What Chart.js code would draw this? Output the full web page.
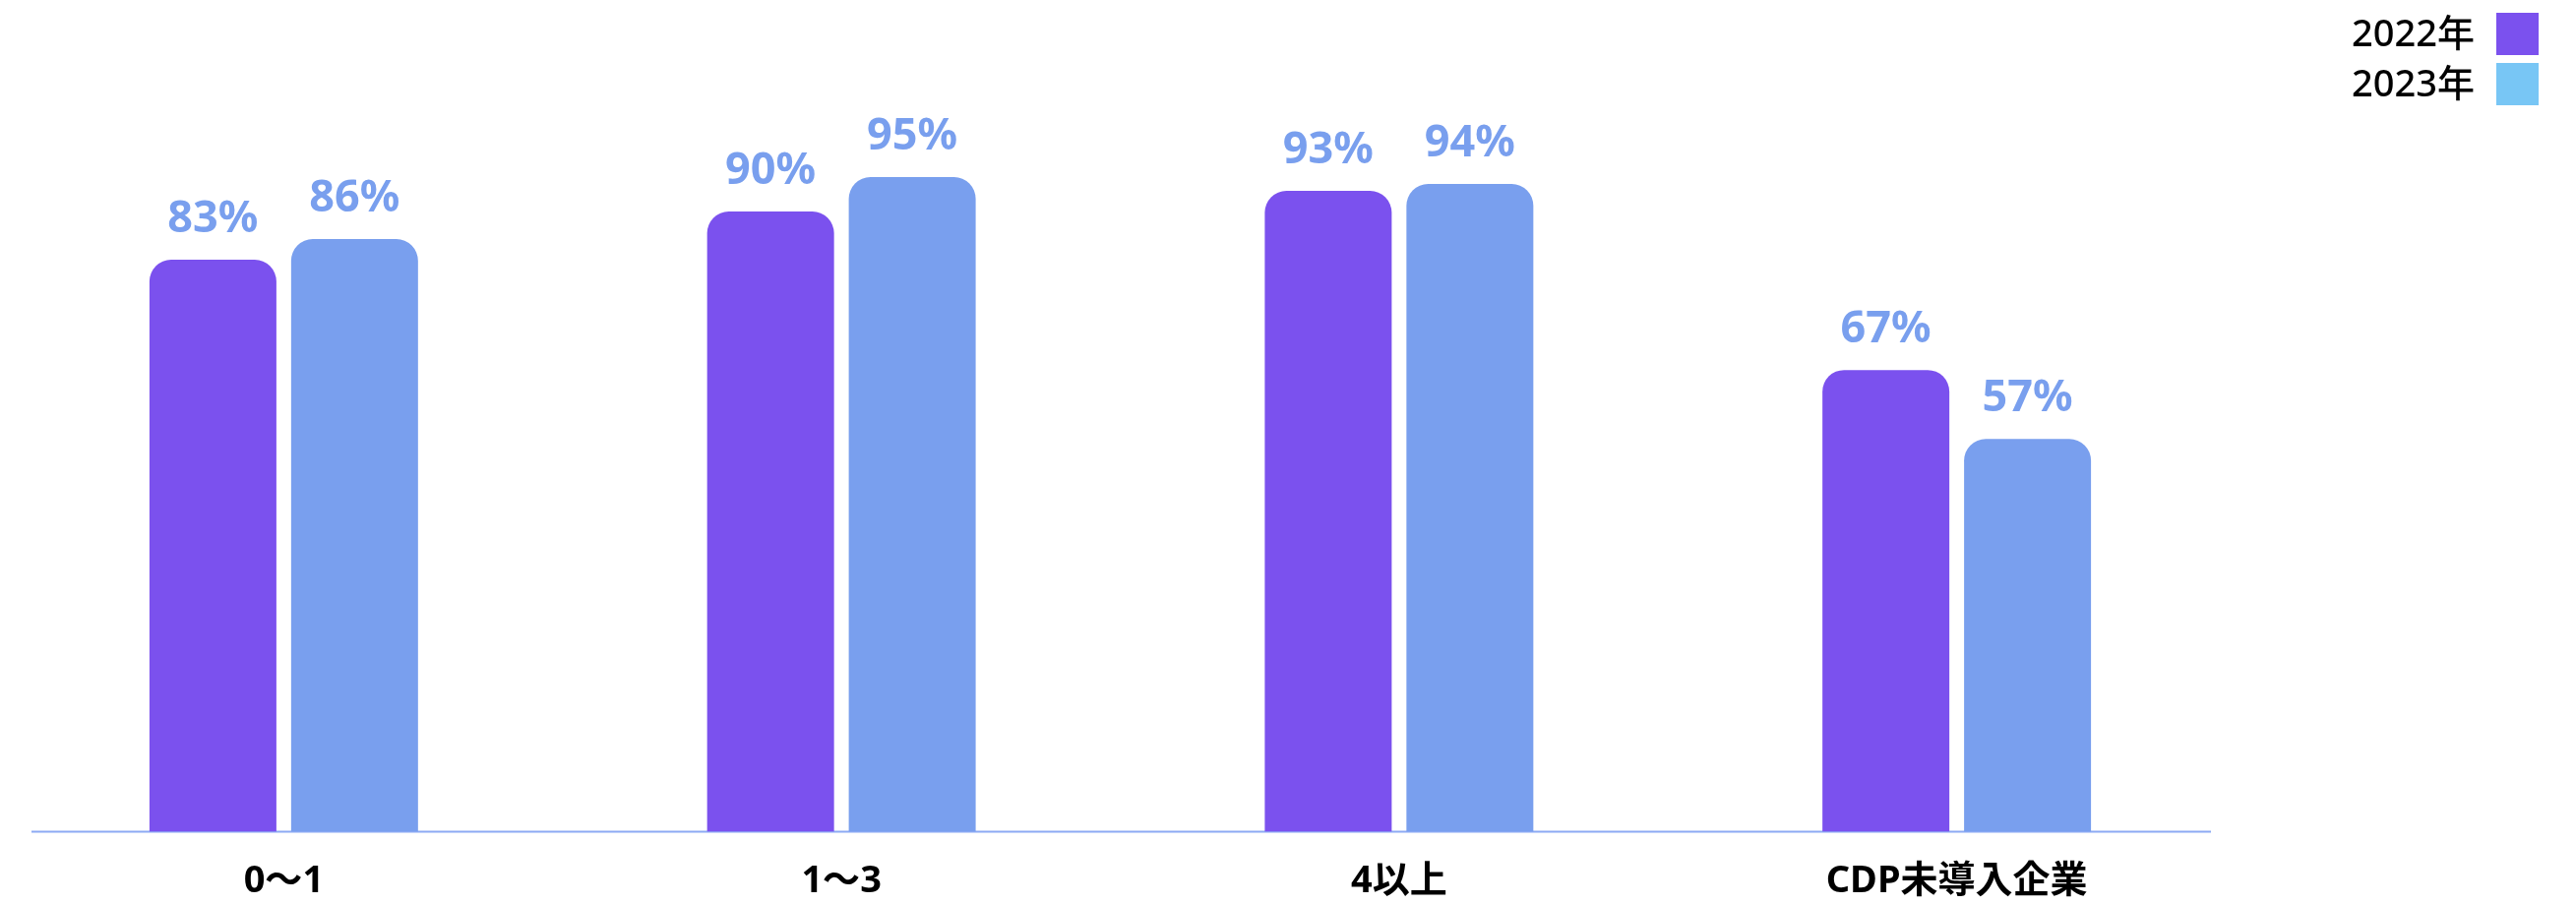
<!DOCTYPE html>
<html lang="ja">
<head>
    <meta charset="UTF-8" />
    <title>CDP回答状況</title>
    <script src="https://cdn.jsdelivr.net/npm/chart.js"></script>
    <style>
        html, body { margin: 0; padding: 0; background: #fff; }
        .wrap { width: 2618px; height: 919px; position: relative; }
    </style>
</head>
<body>
    <div class="wrap">
        <canvas id="rateChart"></canvas>
    </div>

    <script>
        const categories = ['0〜1', '1〜3', '4以上', 'CDP未導入企業'];
        const seriesNames = ['2022年', '2023年'];
        const values2022 = [83, 90, 93, 67];
        const values2023 = [86, 95, 94, 57];

        const purple = '#7b51ee';
        const blue = '#799fee';
        const legendColors = [purple, '#78c6f5'];
        const fontStack = '"Noto Sans", "Noto Sans CJK JP", sans-serif';

        // percentage text above every bar
        const valueLabels = {
            id: 'valueLabels',
            afterDatasetsDraw(chart) {
                const ctx = chart.ctx;
                ctx.save();
                ctx.font = 'bold 45px ' + fontStack;
                ctx.fillStyle = blue;
                ctx.textAlign = 'center';
                ctx.textBaseline = 'alphabetic';
                chart.data.datasets.forEach((ds, i) => {
                    chart.getDatasetMeta(i).data.forEach((bar, j) => {
                        ctx.fillText(ds.data[j] + '%', bar.x, bar.y - 28);
                    });
                });
                ctx.restore();
            }
        };

        // thin baseline, a little shorter than the plot area
        const baseLine = {
            id: 'baseLine',
            beforeDatasetsDraw(chart) {
                const { ctx, chartArea } = chart;
                ctx.save();
                ctx.strokeStyle = '#8caaf4';
                ctx.lineWidth = 2;
                ctx.beginPath();
                ctx.moveTo(chartArea.left + 27, chartArea.bottom);
                ctx.lineTo(chartArea.right - 25, chartArea.bottom);
                ctx.stroke();
                ctx.restore();
            }
        };

        // legend in the top right corner, swatch to the right of the text
        const cornerLegend = {
            id: 'cornerLegend',
            afterDraw(chart) {
                const ctx = chart.ctx;
                ctx.save();
                ctx.font = '500 38px ' + fontStack;
                ctx.textAlign = 'right';
                ctx.textBaseline = 'middle';
                chart.data.datasets.forEach((ds, i) => {
                    const top = 13 + i * 51;
                    ctx.fillStyle = legendColors[i];
                    ctx.fillRect(chart.width - 81, top, 43, 43);
                    ctx.fillStyle = '#000';
                    ctx.fillText(ds.label, chart.width - 103, top + 23);
                });
                ctx.restore();
            }
        };

        const ctx = document.getElementById('rateChart').getContext('2d');
        const rateChart = new Chart(ctx, {
            type: 'bar',
            data: {
                labels: categories,
                datasets: [
                    { label: seriesNames[0], data: values2022, backgroundColor: purple },
                    { label: seriesNames[1], data: values2023, backgroundColor: blue }
                ]
            },
            options: {
                responsive: true,
                maintainAspectRatio: false,
                animation: false,
                layout: { padding: { top: 5, left: 5, right: 346, bottom: -28 } },
                datasets: {
                    bar: {
                        categoryPercentage: 0.508,
                        barPercentage: 0.896,
                        borderRadius: { topLeft: 22, topRight: 22 },
                        borderSkipped: 'bottom'
                    }
                },
                plugins: {
                    legend: { display: false },
                    tooltip: { enabled: false }
                },
                scales: {
                    x: {
                        grid: { display: false, drawTicks: false },
                        border: { display: false },
                        ticks: {
                            padding: 28,
                            color: '#000',
                            font: { family: fontStack, size: 38, weight: 'bold' }
                        }
                    },
                    y: {
                        display: false,
                        min: 0,
                        max: 120
                    }
                }
            },
            plugins: [baseLine, valueLabels, cornerLegend]
        });
    </script>
</body>
</html>
